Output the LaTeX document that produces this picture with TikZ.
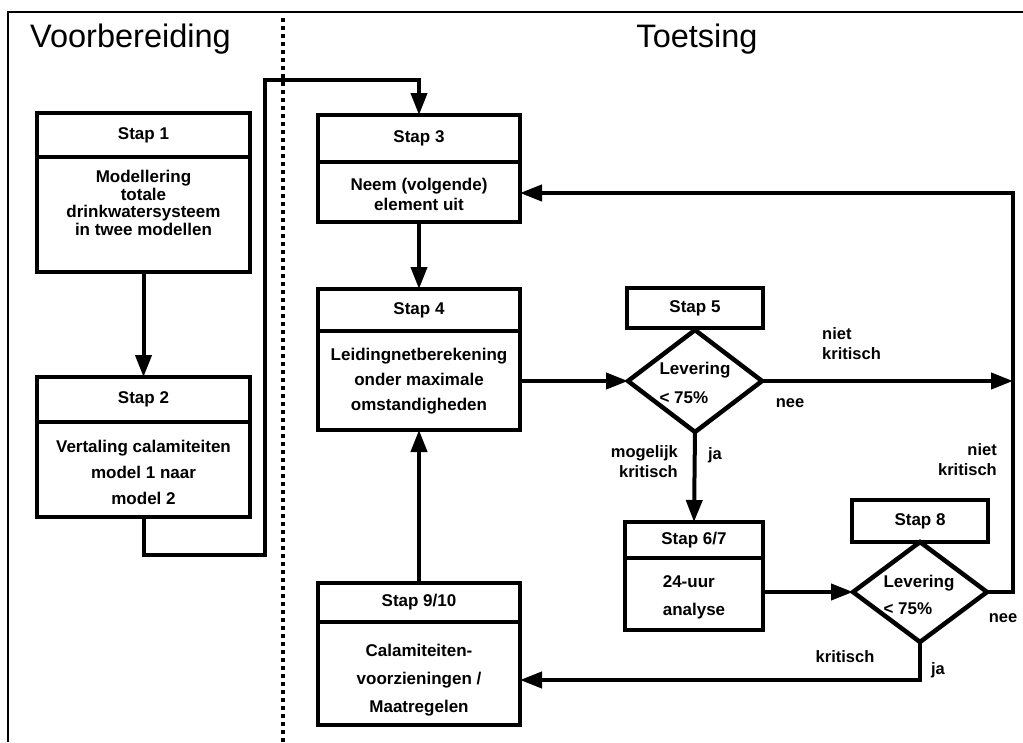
\documentclass[tikz,border=0pt]{standalone}
\usepackage{fontspec}
\setmainfont{Liberation Sans}
\usetikzlibrary{shapes.geometric,arrows.meta,positioning}

\begin{document}
\begin{tikzpicture}[x=1pt,y=-1pt,
  kop/.style={draw, line width=4.5pt, inner sep=0pt, outer sep=0pt, font=\fontsize{17}{20}\bfseries\selectfont},
  romp/.style={draw, line width=4.5pt, inner sep=0pt, outer sep=0pt},
  tekst/.style={align=center, inner sep=0pt, font=\fontsize{17}{#1}\bfseries\selectfont},
  tekst/.default=25,
  ruit/.style={draw, diamond, line width=4.5pt, inner sep=0pt, outer sep=0pt, minimum width=134pt, minimum height=102pt},
  pijl/.style={line width=4pt, -{Triangle[length=22pt,width=16pt]}},
  bijschrift/.style={inner sep=0pt, font=\fontsize{16.5}{20}\bfseries\selectfont},
  titel/.style={inner sep=0pt, font=\fontsize{32.5}{36}\selectfont}]
\useasboundingbox (0,0) rectangle (1023,742);

% kader en scheiding
\draw[line width=2pt] (8,742) -- (8,12) -- (1023,12);
\draw[line width=4pt, dash pattern=on 4pt off 4pt] (283,18) -- (283,742);

\node[titel, anchor=base west] (voor) at (30,47) {Voorbereiding};
\node[titel, anchor=base] (toets) at (697,47) {Toetsing};

% Stap 1
\node[kop, minimum width=213pt, minimum height=44pt] (s1k) at (143.5,135) {Stap 1};
\node[romp, minimum width=213pt, minimum height=115pt] (s1b) at (143.5,214.5) {};
\node[tekst=17.8] (s1t) at (143.5,203) {Modellering\\totale\\drinkwatersysteem\\in twee modellen};

% Stap 2
\node[kop, minimum width=213pt, minimum height=45pt] (s2k) at (143.5,399.5) {Stap 2};
\node[romp, minimum width=213pt, minimum height=95pt] (s2b) at (143.5,469.5) {};
\node[tekst=26] (s2t) at (143.5,472) {Vertaling calamiteiten\\model 1 naar\\model 2};

% Stap 3
\node[kop, minimum width=202pt, minimum height=47pt] (s3k) at (419,138.5) {Stap 3};
\node[romp, minimum width=202pt, minimum height=60pt] (s3b) at (419,192) {};
\node[tekst=20] (s3t) at (419,194) {Neem (volgende)\\element uit};

% Stap 4
\node[kop, minimum width=202pt, minimum height=42pt] (s4k) at (419,310) {Stap 4};
\node[romp, minimum width=202pt, minimum height=99pt] (s4b) at (419,380.5) {};
\node[tekst] (s4t) at (419,381) {Leidingnetberekening\\onder maximale\\omstandigheden};

% Stap 5
\node[kop, minimum width=136pt, minimum height=40pt] (s5k) at (695,308) {Stap 5};
\node[ruit] (d5) at (695,381) {};
\node[tekst=29, align=left] (d5t) at (695,383) {Levering\\< 75\%};

% Stap 6/7
\node[kop, minimum width=138pt, minimum height=36pt] (s67k) at (694,540) {Stap 6/7};
\node[romp, minimum width=138pt, minimum height=72pt] (s67b) at (694,594) {};
\node[tekst=28, align=left] (s67t) at (694,597) {24-uur\\analyse};

% Stap 8
\node[kop, minimum width=136pt, minimum height=42pt] (s8k) at (920,521) {Stap 8};
\node[ruit, minimum height=100pt] (d8) at (920,592) {};
\node[tekst=27, align=left] (d8t) at (919,595) {Levering\\< 75\%};

% Stap 9/10
\node[kop, minimum width=202pt, minimum height=39pt] (s910k) at (419,602.5) {Stap 9/10};
\node[romp, minimum width=202pt, minimum height=103pt] (s910b) at (419,673.5) {};
\node[tekst=28] (s910t) at (419,680) {Calamiteiten-\\voorzieningen /\\Maatregelen};

% verbindingen
\coordinate (h1) at (143.5,555);
\coordinate (h2) at (265,555);
\coordinate (h3) at (265,80);
\coordinate (r5) at (1013,381);
\coordinate (r8) at (1013,592);
\coordinate (r3) at (1013,193);
\coordinate (o8) at (920,680);

\draw[pijl] (s1b.south) -- (s2k.north);
\draw[pijl] (s2b.south) -- (h1) -- (h2) -- (h3) -- (s3k.north |- h3) -- (s3k.north);
\draw[pijl] (s3b.south) -- (s4k.north);
\draw[pijl] (s4b.east |- d5.west) -- (d5.west);
\draw[pijl] (d5.east) -- (r5);
\draw[pijl] (d5.south) -- (s67k.north);
\draw[pijl] (s67b.east |- d8.west) -- (d8.west);
\draw[pijl] (d8.east) -- (r8) -- (r3) -- (s3b.east |- r3);
\draw[pijl] (d8.south) -- (o8) -- (o8 -| s910b.east);
\draw[pijl] (s910k.north) -- (s4b.south);

% bijschriften
\node[bijschrift, align=left, anchor=west] (nk5) at (822,344) {niet\\kritisch};
\node[bijschrift] (nee5) at (790,403) {nee};
\node[bijschrift, align=right, anchor=east] (mk5) at (678,462) {mogelijk\\kritisch};
\node[bijschrift] (ja5) at (715,455) {ja};
\node[bijschrift, align=right, anchor=east] (nk8) at (997,460) {niet\\kritisch};
\node[bijschrift] (nee8) at (1003,618) {nee};
\node[bijschrift] (kr8) at (845,657) {kritisch};
\node[bijschrift] (ja8) at (938,670) {ja};
\end{tikzpicture}
\end{document}
